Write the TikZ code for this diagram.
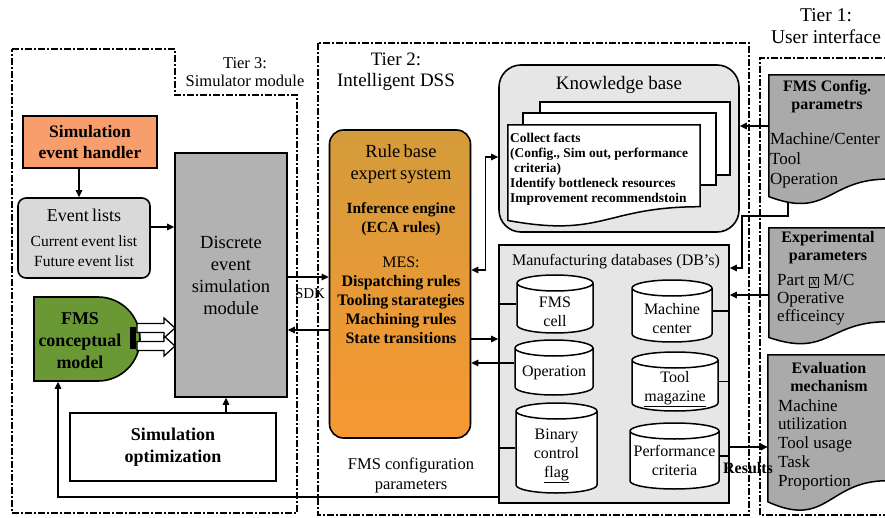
\documentclass[tikz,border=0pt]{standalone}
\usepackage{fontspec}
\setmainfont{Liberation Serif}
\usetikzlibrary{positioning,arrows.meta,calc,shapes.geometric,shapes.misc}
\definecolor{salmon}{RGB}{248,158,108}
\definecolor{listgrey}{RGB}{217,217,217}
\definecolor{desgrey}{RGB}{178,178,178}
\definecolor{modelgreen}{RGB}{106,152,52}
\definecolor{ochre}{RGB}{212,155,58}
\definecolor{brightorange}{RGB}{247,152,50}
\definecolor{panelgrey}{RGB}{230,230,230}
\definecolor{docgrey}{RGB}{170,170,170}
\newcommand{\sz}[2]{\fontsize{#1}{#2}\selectfont}
\newcommand{\partx}{{\setlength{\fboxsep}{1pt}\setlength{\fboxrule}{1pt}\fbox{\sz{14}{14}\itshape x}}}
% document outline with wavy bottom around an empty node
\newcommand{\docshape}[2]{%
  \draw[docline,fill=#1] (#2.north west) -- (#2.north east)
    -- ($(#2.north east)!0.8!(#2.south east)$)
    .. controls ($(#2.north)!0.8!(#2.south)$) and ($(#2.north)!1.107!(#2.south)$)
    .. ($(#2.north west)!0.934!(#2.south west)$) -- cycle;}
\tikzset{
  tierline/.style={line width=1.5pt,dash pattern=on 7pt off 2pt on 2pt off 2pt},
  tierlbl/.style={align=center,inner sep=0pt},
  box/.style={draw,line width=1.6pt,align=center,inner sep=2pt},
  db/.style={inner sep=0pt,path picture={
    \draw[line width=1.5pt,fill=white]
      let \p1=($(path picture bounding box.east)-(path picture bounding box.west)$), \n1={0.5*\x1-1pt} in
      ([xshift=1pt,yshift=-9pt]path picture bounding box.north west)
      -- ([xshift=1pt,yshift=9pt]path picture bounding box.south west)
      arc[start angle=180,end angle=360,x radius=\n1,y radius=8pt]
      -- ([xshift=-1pt,yshift=-9pt]path picture bounding box.north east)
      ([yshift=-9pt]path picture bounding box.north) ellipse[x radius=\n1,y radius=8pt];}},
  dbtext/.style={inner sep=0pt,align=center,font=\sz{16}{19},yshift=-8pt},
  arr/.style={-{Triangle[length=7pt,width=6.5pt]},line width=1.5pt},
  darr/.style={{Triangle[length=7pt,width=6.5pt]}-{Triangle[length=7pt,width=6.5pt]},line width=1.5pt},
  link/.style={line width=1.5pt},
  page/.style={draw,line width=1.5pt,fill=white},
  docline/.style={draw,line width=1.5pt},
  txt/.style={inner sep=0pt,align=center},
}
\begin{document}
\begin{tikzpicture}[x=1pt,y=-1pt]
\useasboundingbox (0,0) rectangle (885,518);
\clip (0,0) rectangle (885,518);

% tier frames
\draw[tierline] (12,49) -- (175,49) -- (175,95) -- (297,95) -- (297,513) -- (12,513) -- cycle;
\draw[tierline] (318,43) rectangle (749,515);
\draw[tierline] (895,58) -- (760,58) -- (760,515) -- (895,515);
\node[tierlbl,font=\sz{16.5}{18.5}] (t3) at (245,72) {Tier 3:\\Simulator module};
\node[tierlbl,font=\sz{19}{21}] (t2) at (396,72) {Tier 2:\\Intelligent DSS};
\node[tierlbl,font=\sz{19.5}{22}] (t1) at (826,26) {Tier 1:\\User interface};

% tier 3: simulator
\node[box,fill=salmon,minimum width=134pt,minimum height=52pt,font=\bfseries\sz{17.5}{21}] (seh) at (90,142) {Simulation\\event handler};
\node[box,fill=listgrey,rounded corners=8pt,minimum width=132pt,minimum height=80pt,text width=126pt] (evl) at (84,238)
  {{\sz{18}{21}Event lists\par}\vspace{5pt}{\sz{15.5}{20}Current event list\\Future event list\par}};
\node[box,fill=desgrey,minimum width=112pt,minimum height=244pt,font=\sz{18.5}{22}] (des) at (231,275) {Discrete\\event\\simulation\\module};
\node[box,rounded rectangle,rounded rectangle west arc=none,fill=modelgreen,minimum width=110pt,minimum height=84pt] (fcm) at (87,339) {};
\node[txt,font=\bfseries\sz{18}{22}] (fcmtxt) at (80,341) {FMS\\conceptual\\model};
\fill (130,327) rectangle (136,349);
\foreach \ay in {328,346}
  \draw[line width=1.3pt,fill=white] (137,\ay-4.5) -- (164,\ay-4.5) -- (164,\ay-10) -- (175,\ay)
    -- (164,\ay+10) -- (164,\ay+4.5) -- (137,\ay+4.5) -- cycle;
\node[box,fill=white,minimum width=206pt,minimum height=68pt,font=\bfseries\sz{18}{22}] (simopt) at (173,447) {Simulation\\optimization};

\draw[arr] (seh.south -| 79,0) -- (evl.north -| 79,0);
\draw[arr] (evl.east |- 0,227) -- (des.west |- 0,227);
\draw[arr] (simopt.north -| 226,0) -- (des.south -| 226,0);

% tier 2: intelligent DSS
\node[box,rounded corners=14pt,top color=ochre,bottom color=brightorange,minimum width=141pt,minimum height=308pt] (rbes) at (400,284) {};
\node[txt,anchor=north,text width=138pt] (rbtxt) at (401,144)
  {{\sz{18.5}{22}Rule base\\expert system\par}\vspace{15pt}%
   {\bfseries\sz{15.5}{19}Inference engine\\(ECA rules)\par}\vspace{16pt}%
   {\sz{16}{19}MES:\\\bfseries Dispatching rules\\Tooling starategies\\Machining rules\\State transitions\par}};

\draw[arr] (des.east |- 0,277) -- (rbes.west |- 0,277);
\node[txt,font=\sz{15}{17}] (sdk) at (310,294) {SDK};
\draw[arr] (rbes.west |- 0,330) -- (des.east |- 0,330);

\node[box,rounded corners=22pt,fill=panelgrey,minimum width=240pt,minimum height=167pt] (kb) at (619,148.5) {};
\node[txt,font=\sz{19}{21}] (kbtitle) at (619,85) {Knowledge base};
\node[page,minimum width=190pt,minimum height=73pt] (pg3) at (635,138.5) {};
\node[page,minimum width=193pt,minimum height=72pt] (pg2) at (619.5,149) {};
\node[inner sep=0pt,minimum width=192pt,minimum height=102pt] (pg1) at (604,176) {};
\docshape{white}{pg1}
\node[txt,anchor=west,align=left,font=\bfseries\sz{13.4}{15}] (kbtxt) at (510,169)
  {Collect facts\\(Config., Sim out, performance\\\hspace{4pt}criteria)\\Identify bottleneck resources\\Improvement recommendstoin};
\draw[darr] (rbes.east |- 0,270) -- ++(14,0) |- (kb.west |- 0,157);

\node[box,fill=panelgrey,minimum width=230pt,minimum height=258pt] (dbs) at (614,374) {};
\node[txt,font=\sz{16}{19}] (dbtitle) at (616,262) {Manufacturing databases (DB's)};
\node[db,minimum width=78pt,minimum height=60pt,label={[dbtext]center:{FMS\\cell}}] (fmscell) at (555,304) {};
\node[db,minimum width=80pt,minimum height=57pt,label={[dbtext,yshift=3pt]center:{Operation}}] (op) at (554,367.5) {};
\node[db,minimum width=83pt,minimum height=92pt,label={[dbtext]center:{Binary\\control\\\underline{flag}}}] (binflag) at (556.5,448) {};
\node[db,minimum width=82pt,minimum height=64pt,label={[dbtext]center:{Machine\\center}}] (mach) at (672,311) {};
\node[db,minimum width=88pt,minimum height=61pt,label={[dbtext]center:{Tool\\\underline{magazine}}}] (toolmag) at (675,381.5) {};
\node[db,minimum width=91pt,minimum height=68pt,label={[dbtext,yshift=4pt]center:{Performance\\criteria}}] (perf) at (674.5,456) {};

\draw[link] (dbs.west |- fmscell.west) -- (fmscell.west);
\draw[link] (dbs.west |- binflag.west) -- (binflag.west);
\draw[link] (mach.east) -- (dbs.east |- mach.east);
\draw[link] (toolmag.east) -- (dbs.east |- toolmag.east);
\draw[link] (perf.east) -- (dbs.east |- perf.east);
\draw[arr] (rbes.east |- 0,339) -- (dbs.west |- 0,339);
\draw[arr] (op.west |- 0,363) -- (rbes.east |- 0,363);
\draw[arr] (dbs.west |- 0,497) -| (fcm.south -| 58,0);
\node[txt,font=\sz{16.5}{20}] (cfgpar) at (411,475) {FMS configuration\\parameters};

% tier 1: user interface
\node[inner sep=0pt,minimum width=118pt,minimum height=130pt] (cfg) at (828,140) {};
\docshape{docgrey}{cfg}
\node[txt,font=\bfseries\sz{16}{18}] (cfghd) at (827,97) {FMS Config.\\parametrs};
\node[txt,anchor=west,align=left,font=\sz{17}{20}] (cfgtxt) at (770,160) {Machine/Center\\Tool\\Operation};

\node[inner sep=0pt,minimum width=118pt,minimum height=117pt] (exp) at (828,286.5) {};
\docshape{docgrey}{exp}
\node[txt,font=\bfseries\sz{16}{18}] (exphd) at (828,248) {Experimental\\parameters};
\node[txt,anchor=west,align=left,font=\sz{17}{18}] (exptxt) at (777,300) {Part \partx\ M/C\\Operative\\efficeincy};

\node[inner sep=0pt,minimum width=119pt,minimum height=157pt] (evm) at (827.5,433.5) {};
\docshape{docgrey}{evm}
\node[txt,font=\bfseries\sz{16}{18}] (evmhd) at (829,377) {Evaluation\\mechanism};
\node[txt,anchor=west,align=left,font=\sz{17}{18.75}] (evmtxt) at (778,444.5) {Machine\\utilization\\Tool usage\\Task\\Proportion};

\draw[arr] (cfg.west |- 0,126) -- (kb.east |- 0,126);
\draw[arr] ($(cfg.south -| 788,0)+(0,-3)$) |- (742,216) |- (dbs.east |- 0,268);
\draw[arr] (exp.west |- 0,295) -- (dbs.east |- 0,295);
\draw[arr] (dbs.east |- 0,447) -- (evm.west |- 0,447);
\node[txt,font=\bfseries\sz{16}{18}] (res) at (748,468) {Results};
\end{tikzpicture}
\end{document}
